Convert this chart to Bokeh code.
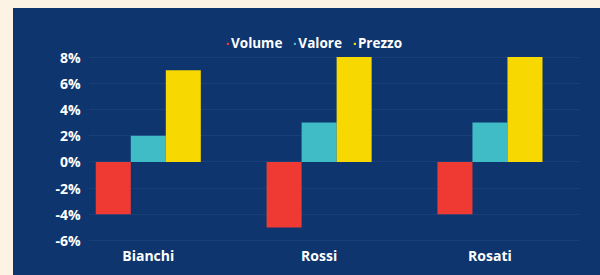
from bokeh.plotting import figure
from bokeh.models import Range1d, FixedTicker, PrintfTickFormatter, Legend, LegendItem
from bokeh.embed import file_html
from bokeh.resources import INLINE

categories = ["Bianchi", "Rossi", "Rosati"]
series_names = ["Volume", "Valore", "Prezzo"]
volume = [-4, -5, -4]
valore = [2, 3, 3]
prezzo = [7, 8, 8]
y_ticks = [-6, -4, -2, 0, 2, 4, 6, 8]

NAVY = "#0e356e"
CREAM = "#fcf3e4"
colors = ["#ef3a34", "#3fbcc6", "#f7d800"]
FONT = "Open Sans"
FS = "14px"

p = figure(width=587, height=267, output_backend="svg", toolbar_location=None,
           x_range=Range1d(-0.35, 2.53), y_range=Range1d(-6.15, 10.03),
           background_fill_color=NAVY, border_fill_color=NAVY,
           min_border_left=75, min_border_right=20, min_border_top=22, min_border_bottom=33)
p.outline_line_color = None
p.styles = {"background-color": NAVY}
p.margin = (8, 0, 0, 13)

idx = list(range(len(categories)))
w = 0.205
renderers = []
for k, (vals, col) in enumerate(zip([volume, valore, prezzo], colors)):
    xs = [i + (k - 1) * w for i in idx]
    r = p.vbar(x=xs, top=vals, bottom=0, width=w, fill_color=col, line_color=None)
    renderers.append(r)

legend = Legend(items=[LegendItem(label=n, renderers=[r]) for n, r in zip(series_names, renderers)],
                orientation="horizontal", location=(138, 190),
                background_fill_alpha=0, border_line_color=None,
                label_text_color="white", label_text_font=FONT, label_text_font_style="bold",
                label_text_font_size="13.5px", glyph_width=3, glyph_height=3,
                label_standoff=2, spacing=11, padding=2, margin=0)
p.add_layout(legend, "center")

p.yaxis.ticker = FixedTicker(ticks=y_ticks)
p.yaxis.formatter = PrintfTickFormatter(format="%d%%")
p.xaxis.ticker = FixedTicker(ticks=idx)
p.xaxis.major_label_overrides = {i: c for i, c in zip(idx, categories)}
for ax in (p.xaxis, p.yaxis):
    ax.axis_line_color = None
    ax.major_tick_line_color = None
    ax.minor_tick_line_color = None
    ax.major_label_text_color = "white"
    ax.major_label_text_font = FONT
    ax.major_label_text_font_style = "bold"
    ax.major_label_text_font_size = FS
p.yaxis.major_label_standoff = 2
p.xaxis.major_label_standoff = -3

p.xgrid.grid_line_color = None
p.ygrid.grid_line_color = "#2a5088"
p.ygrid.grid_line_alpha = 0.4

html = file_html(p, INLINE)
html = html.replace("<head>", "<head><style>html,body{background:" + CREAM + ";margin:0 !important;}</style>", 1)
open("out.html", "w").write(html)
